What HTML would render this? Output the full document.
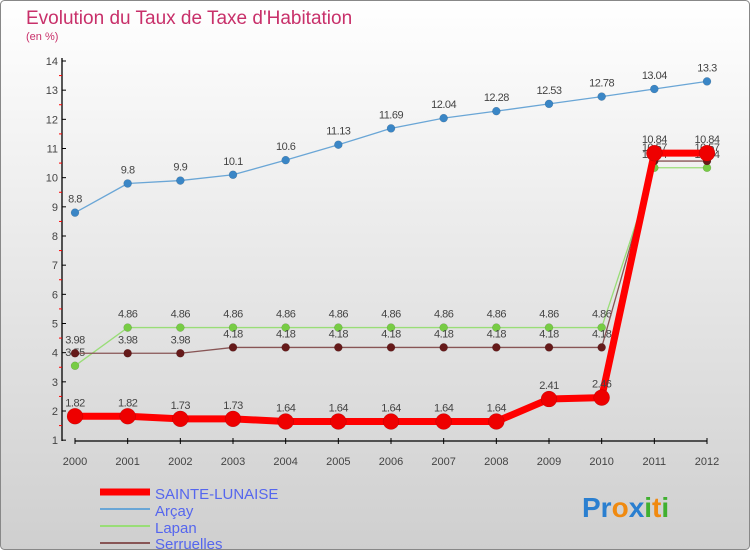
<!DOCTYPE html>
<html><head><meta charset="utf-8"><style>
body{margin:0;width:750px;height:550px;overflow:hidden;font-family:"Liberation Sans",sans-serif}
svg{display:block}
text{font-family:"Liberation Sans",sans-serif}
</style></head><body>
<svg id="chart" width="750" height="550">
<defs><linearGradient id="bg" x1="0" y1="0" x2="0" y2="1"><stop offset="0" stop-color="#ffffff"/><stop offset="1" stop-color="#cfcfcf"/></linearGradient></defs>
<rect x="0.5" y="0.5" width="749" height="549" rx="4" fill="url(#bg)" stroke="#888"/>
<text x="26" y="24" font-size="19" fill="#c8306a">Evolution du Taux de Taxe d'Habitation</text>
<text x="26" y="40" font-size="11" fill="#c8306a">(en %)</text>
<g id="axes"></g>
<g id="series"></g>
<g id="legend">
<line x1="100" y1="492" x2="150" y2="492" stroke="#f00" stroke-width="7"/>
<text x="155" y="499" font-size="15" fill="#5566ee">SAINTE-LUNAISE</text>
<line x1="100" y1="509" x2="150" y2="509" stroke="#6aa6d6" stroke-width="2"/>
<text x="155" y="516" font-size="15" fill="#5566ee">Arçay</text>
<line x1="100" y1="526" x2="150" y2="526" stroke="#99dd77" stroke-width="2"/>
<text x="155" y="533" font-size="15" fill="#5566ee">Lapan</text>
<line x1="100" y1="543" x2="150" y2="543" stroke="#885555" stroke-width="2"/>
<text x="155" y="549" font-size="15" fill="#5566ee">Serruelles</text>
</g>
<text x="582" y="517" font-size="28" font-weight="bold"><tspan fill="#2a7fd0">Pr</tspan><tspan fill="#f08a10">o</tspan><tspan fill="#2a7fd0">x</tspan><tspan fill="#40b030">i</tspan><tspan fill="#f08a10">t</tspan><tspan fill="#40b030">i</tspan></text>
</svg>
<script>
const years=[2000,2001,2002,2003,2004,2005,2006,2007,2008,2009,2010,2011,2012];
const yTicks=[1,2,3,4,5,6,7,8,9,10,11,12,13,14];
const sainteLunaise=[1.82,1.82,1.73,1.73,1.64,1.64,1.64,1.64,1.64,2.41,2.46,10.84,10.84];
const arcay=[8.8,9.8,9.9,10.1,10.6,11.13,11.69,12.04,12.28,12.53,12.78,13.04,13.3];
const lapan=[3.55,4.86,4.86,4.86,4.86,4.86,4.86,4.86,4.86,4.86,4.86,10.34,10.34];
const serruelles=[3.98,3.98,3.98,4.18,4.18,4.18,4.18,4.18,4.18,4.18,4.18,10.57,10.57];
const NS='http://www.w3.org/2000/svg';
const xS=i=>75+i*(707-75)/(years.length-1);
const yS=v=>411-(v-2)*(411-61)/12;
function mk(t,a,p){const e=document.createElementNS(NS,t);for(const k in a)e.setAttribute(k,a[k]);p.appendChild(e);return e;}
const ax=document.getElementById('axes');
const yl=mk('line',{x1:62,y1:58,x2:62,y2:441,stroke:'#000','stroke-width':1.3},ax);


const xl=mk('line',{x1:75,y1:441,x2:707,y2:441,stroke:'#000','stroke-width':1.3},ax);


yTicks.forEach(v=>{
  const y=yS(v);
  mk('line',{x1:62,y1:y,x2:66,y2:y,stroke:'#000'},ax);
  if(v<14)mk('line',{x1:59,y1:yS(v+0.5),x2:62,y2:yS(v+0.5),stroke:'#f00'},ax);
  const t=mk('text',{x:58,y:y+4,'font-size':11,fill:'#444','text-anchor':'end'},ax);
  
  
  t.textContent=v;
});
years.forEach((yr,i)=>{
  const x=xS(i);
  mk('line',{x1:x,y1:438,x2:x,y2:444,stroke:'#000'},ax);
  const t=mk('text',{x:x,y:465,'font-size':11,fill:'#444','text-anchor':'middle'},ax);
  
  
  t.textContent=yr;
});
const sg=document.getElementById('series');
function draw(name,vals,color,w,r,dot){
  const g=mk('g',{},sg);
  
  
  mk('polyline',{points:vals.map((v,i)=>xS(i)+','+yS(v)).join(' '),fill:'none',stroke:color,'stroke-width':w,'stroke-linejoin':'round'},g);
  vals.forEach((v,i)=>{
    const c=mk('circle',{cx:xS(i),cy:yS(v),r:r,fill:dot,stroke:'rgba(0,0,0,0.2)','stroke-width':0.5},g);
    
    
    const t=mk('text',{x:xS(i),y:yS(v)-10,'font-size':11,fill:'#444','text-anchor':'middle','letter-spacing':'-0.5'},g);
    
    
    t.textContent=v;
  });
}
draw('arcay',arcay,'#6aa6d6',1.3,4,'#3a86c6');
draw('lapan',lapan,'#99dd77',1.3,4,'#77cc44');
draw('serruelles',serruelles,'#885555',1.3,4,'#661a1a');
draw('sainte-lunaise',sainteLunaise,'#f00',7,8,'#ee0000');
</script>
</body></html>
